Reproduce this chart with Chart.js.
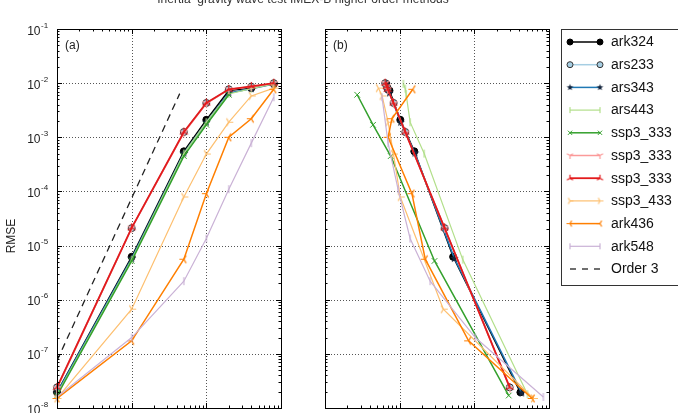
<!DOCTYPE html>
<html>
<head>
<meta charset="utf-8">
<script src="https://cdn.jsdelivr.net/npm/chart.js@4.4.1/dist/chart.umd.min.js"></script>
<style>
html, body { margin: 0; padding: 0; background: #fff; overflow: hidden; }
#wrap { position: relative; width: 678px; height: 413px; }
canvas { position: absolute; left: 0; top: 0; }
</style>
</head>
<body>
<div id="wrap">
  <canvas id="chartA" width="678" height="413"></canvas>
  <canvas id="chartB" width="678" height="413"></canvas>
</div>
<script>
// legend labels, in plotting order
const seriesNames = ['ark324', 'ars233', 'ars343', 'ars443', 'ssp3_333', 'ssp3_333', 'ssp3_333', 'ssp3_433', 'ark436', 'ark548'];

// time steps (panel a x values)
const dtSteps = [1, 10, 50, 100, 200, 400, 800];

// RMSE per method, one value per time step
const rmseArk324 = [1.95e-8, 6.2e-6, 5.5e-4, 2.1e-3, 7.3e-3, 8.1e-3, 9.7e-3];
const rmseArs233 = [2.4e-8, 2.1e-5, 1.25e-3, 4.3e-3, 7.7e-3, 8.6e-3, 1.0e-2];
const rmseArs343 = [1.9e-8, 5.8e-6, 5.1e-4, 1.9e-3, 6.6e-3, 7.9e-3, 9.6e-3];
const rmseArs443 = [1.8e-8, 5.5e-6, 5.0e-4, 1.9e-3, 6.3e-3, 7.9e-3, 9.7e-3];
const rmseSsp333a = [1.7e-8, 5.2e-6, 4.5e-4, 1.7e-3, 6.1e-3];
const rmseSsp333b = [2.3e-8, 2.1e-5, 1.2e-3, 4.2e-3, 7.6e-3, 8.6e-3, 9.9e-3];
const rmseSsp333c = [2.4e-8, 2.13e-5, 1.25e-3, 4.3e-3, 7.7e-3, 8.7e-3, 1.0e-2];
const rmseSsp433 = [1.5e-8, 6.7e-7, 7.9e-5, 4.9e-4, 1.9e-3, 5.8e-3, 8.1e-3];
const rmseArk436 = [1.5e-8, 1.74e-7, 5.6e-6, 9.1e-5, 1.0e-3, 2.2e-3, 7.7e-3];
const rmseArk548 = [1.6e-8, 2.0e-7, 2.2e-6, 1.35e-5, 1.1e-4, 7.8e-4, 5.5e-3];

// cost per method (panel b x values), same order as dtSteps
const costArk324 = [414, 52, 15.7, 10.2, 7.3, 6.9, 6.6];
const costArs233 = [298, 40, 11.9, 8.3, 6.9, 6.7, 6.4];
const costArs343 = [430, 54, 16, 10.3, 7.3, 6.9, 6.6];
const costArs443 = [515, 70, 21.3, 13.8, 12.2, 11.9, 11.2];
const costSsp333a = [289, 29.3, 7.6, 4.4, 2.7];
const costSsp333b = [300, 40, 12, 8.3, 6.9, 6.7, 6.4];
const costSsp333c = [298, 39.9, 11.9, 8.26, 6.92, 6.69, 6.39];
const costSsp433 = [619, 38.4, 10.2, 8.26, 7.0, 5.82, 5.19];
const costArk436 = [595, 83.8, 22, 14.6, 7.0, 7.86, 15.0];
const costArk548 = [840, 103, 25.6, 13.8, 9.5, 7.0, 5.8];

// third order reference slope
const order3X = [1, 44];
const order3Y = [7.5e-8, 6.4e-3];

const yDecades = [-8, -7, -6, -5, -4, -3, -2, -1];
const xDecades = [0, 1, 2, 3];

const rmseAll = [rmseArk324, rmseArs233, rmseArs343, rmseArs443, rmseSsp333a, rmseSsp333b, rmseSsp333c, rmseSsp433, rmseArk436, rmseArk548];
const costAll = [costArk324, costArs233, costArs343, costArs443, costSsp333a, costSsp333b, costSsp333c, costSsp433, costArk436, costArk548];

const FONT = '"Liberation Sans", Arial, Helvetica, sans-serif';

// small canvases used as point markers
function mk(size, draw) {
    const c = document.createElement('canvas');
    c.width = c.height = size;
    const g = c.getContext('2d');
    g.translate(size / 2, size / 2);
    draw(g);
    return c;
}
function tri(color, stemDeg, r) {
    return mk(2 * r + 2, g => {
        g.strokeStyle = color;
        g.lineWidth = 1.2;
        g.beginPath();
        [0, 120, 240].forEach(d => {
            const a = (stemDeg + d) * Math.PI / 180;
            g.moveTo(0, 0);
            g.lineTo(r * Math.cos(a), r * Math.sin(a));
        });
        g.stroke();
    });
}
function vbar(color, r) {
    return mk(2 * r + 2, g => {
        g.strokeStyle = color;
        g.lineWidth = 1.2;
        g.beginPath();
        g.moveTo(0, -r);
        g.lineTo(0, r);
        g.stroke();
    });
}
function star(color, r) {
    return mk(2 * r + 2, g => {
        g.fillStyle = color;
        g.beginPath();
        for (let i = 0; i < 10; i++) {
            const a = -Math.PI / 2 + i * Math.PI / 5;
            const rr = i % 2 ? r * 0.42 : r;
            g.lineTo(rr * Math.cos(a), rr * Math.sin(a));
        }
        g.closePath();
        g.fill();
    });
}

const styles = [
    { color: '#000000', point: 'circle', radius: 3.5, fill: '#000000', edge: '#000000', width: 1.5 },
    { color: '#a6cee3', point: 'circle', radius: 3.5, fill: '#a6cee3', edge: '#333333', width: 1.5 },
    { color: '#1f78b4', point: star('#14253d', 4.5), radius: 4, width: 1.5 },
    { color: '#b2df8a', point: vbar('#b2df8a', 4), radius: 4, width: 1.2 },
    { color: '#33a02c', point: 'crossRot', radius: 4, fill: '#33a02c', edge: '#33a02c', width: 1.5 },
    { color: '#fb9a99', point: tri('#fb9a99', 90, 4.5), radius: 4, width: 1.5 },
    { color: '#e31a1c', point: tri('#e31a1c', 270, 4.5), radius: 4, width: 1.8 },
    { color: '#fdbf6f', point: tri('#fdbf6f', 0, 4.5), radius: 4, width: 1.2 },
    { color: '#ff7f00', point: tri('#ff7f00', 180, 4.5), radius: 4, width: 1.5 },
    { color: '#cab2d6', point: vbar('#cab2d6', 4), radius: 4, width: 1.2 }
];

// smaller copies for the legend samples
const legendPoints = [
    'circle', 'circle', star('#14253d', 3.5), vbar('#b2df8a', 3), 'crossRot',
    tri('#fb9a99', 90, 3.5), tri('#e31a1c', 270, 3.5), tri('#fdbf6f', 0, 3.5), tri('#ff7f00', 180, 3.5), vbar('#cab2d6', 3)
];

function buildSets(xsFor) {
    const sets = seriesNames.map((name, i) => {
        const s = styles[i];
        const xs = xsFor(i);
        return {
            label: name,
            data: rmseAll[i].map((y, j) => ({ x: xs[j], y: y })),
            showLine: true,
            borderColor: s.color,
            backgroundColor: s.color,
            borderWidth: s.width,
            pointStyle: s.point,
            pointRadius: s.radius,
            pointBackgroundColor: s.fill || s.color,
            pointBorderColor: s.edge || s.color,
            pointBorderWidth: 1,
            order: 20 - i,
            clip: false
        };
    });
    return sets;
}

const setsA = buildSets(() => dtSteps);
setsA.push({
    label: 'Order 3',
    data: order3X.map((x, j) => ({ x: x, y: order3Y[j] })),
    showLine: true,
    borderColor: '#222',
    borderWidth: 1.3,
    borderDash: [7, 5],
    pointRadius: 0,
    order: 0
});
const setsB = buildSets(i => costAll[i]);

function forLog(fromExp, toExp, fn) {
    for (let k = fromExp; k < toExp; k++) {
        for (let m = 2; m <= 9; m++) fn(m * Math.pow(10, k));
    }
}

// grid, frame and inward ticks in the matplotlib way
const framePlugin = {
    id: 'frame',
    beforeDatasetsDraw(chart) {
        const { ctx, chartArea: a, scales: { x, y } } = chart;
        ctx.save();
        ctx.strokeStyle = '#555';
        ctx.lineWidth = 1;
        ctx.setLineDash([1, 2]);
        ctx.beginPath();
        [1, 2].forEach(k => {
            const px = Math.round(x.getPixelForValue(Math.pow(10, k))) + 0.5;
            ctx.moveTo(px, a.top); ctx.lineTo(px, a.bottom);
        });
        yDecades.slice(1, -1).forEach(k => {
            const py = Math.round(y.getPixelForValue(Math.pow(10, k))) + 0.5;
            ctx.moveTo(a.left, py); ctx.lineTo(a.right, py);
        });
        ctx.stroke();
        ctx.restore();
    },
    afterDatasetsDraw(chart) {
        const { ctx, chartArea: a, scales: { x, y } } = chart;
        ctx.save();
        ctx.strokeStyle = '#000';
        ctx.lineWidth = 1;
        ctx.beginPath();
        const tickX = (v, len) => {
            const px = Math.round(x.getPixelForValue(v)) + 0.5;
            ctx.moveTo(px, a.bottom); ctx.lineTo(px, a.bottom - len);
            ctx.moveTo(px, a.top); ctx.lineTo(px, a.top + len);
        };
        const tickY = (v, len) => {
            const py = Math.round(y.getPixelForValue(v)) + 0.5;
            ctx.moveTo(a.left, py); ctx.lineTo(a.left + len, py);
            ctx.moveTo(a.right, py); ctx.lineTo(a.right - len, py);
        };
        xDecades.forEach(k => tickX(Math.pow(10, k), 5));
        forLog(0, 3, v => tickX(v, 2.5));
        yDecades.forEach(k => tickY(Math.pow(10, k), 5));
        forLog(-8, -1, v => tickY(v, 2.5));
        ctx.stroke();
        ctx.strokeRect(Math.round(a.left) + 0.5, Math.round(a.top) + 0.5, Math.round(a.right - a.left), Math.round(a.bottom - a.top));
        ctx.restore();
    }
};

const labelsA = {
    id: 'labelsA',
    afterDraw(chart) {
        const { ctx, scales: { y } } = chart;
        ctx.save();
        ctx.fillStyle = '#222';
        yDecades.forEach(k => {
            const py = y.getPixelForValue(Math.pow(10, k));
            ctx.font = '12px ' + FONT;
            ctx.textAlign = 'right';
            ctx.textBaseline = 'alphabetic';
            ctx.fillText('10', 40.5, py + 5.5);
            ctx.font = '8px ' + FONT;
            ctx.textAlign = 'left';
            ctx.fillText('-' + Math.abs(k), 41, py - 1.5);
        });
        ctx.font = '12px ' + FONT;
        ctx.textAlign = 'left';
        ctx.fillText('(a)', 65, 49);
        ctx.textAlign = 'center';
        ctx.fillStyle = '#333';
        ctx.fillText('Inertia\u2013gravity wave test IMEX-B higher order methods', 303, 3);
        ctx.translate(12, 236);
        ctx.rotate(-Math.PI / 2);
        ctx.fillStyle = '#222';
        ctx.textBaseline = 'middle';
        ctx.fillText('RMSE', 0, 0);
        ctx.restore();
    }
};

const labelsB = {
    id: 'labelsB',
    afterDraw(chart) {
        const { ctx } = chart;
        ctx.save();
        ctx.fillStyle = '#222';
        ctx.font = '12px ' + FONT;
        ctx.fillText('(b)', 333, 49);

        // legend box
        ctx.strokeStyle = '#333';
        ctx.lineWidth = 1;
        ctx.strokeRect(561.5, 29.5, 140, 256);
        setsA.forEach((ds, i) => {
            const ly = 42 + i * 22.7;
            ctx.save();
            ctx.strokeStyle = ds.borderColor;
            ctx.lineWidth = ds.borderWidth;
            if (ds.borderDash) ctx.setLineDash([6, 6]);
            ctx.beginPath();
            ctx.moveTo(570, ly); ctx.lineTo(600, ly);
            ctx.stroke();
            ctx.restore();
            if (ds.pointRadius > 0) {
                [570, 600].forEach(lx => {
                    ctx.save();
                    ctx.fillStyle = ds.pointBackgroundColor;
                    ctx.strokeStyle = ds.pointBorderColor;
                    ctx.lineWidth = 1;
                    Chart.helpers.drawPoint(ctx, { pointStyle: legendPoints[i], radius: 3, borderWidth: 1, rotation: 0 }, lx, ly);
                    ctx.restore();
                });
            }
            ctx.fillStyle = '#111';
            ctx.font = '14px ' + FONT;
            ctx.textAlign = 'left';
            ctx.textBaseline = 'middle';
            ctx.fillText(ds.label, 611, ly + 0.5);
        });
        ctx.restore();
    }
};

function panel(id, pad, datasets, extra) {
    return new Chart(document.getElementById(id), {
        type: 'scatter',
        data: { datasets: datasets },
        options: {
            responsive: false,
            animation: false,
            events: [],
            layout: { padding: pad },
            plugins: { legend: { display: false }, tooltip: { enabled: false } },
            scales: {
                x: { type: 'logarithmic', min: 1, max: 1000, display: false },
                y: { type: 'logarithmic', min: 1e-8, max: 1e-1, display: false }
            }
        },
        plugins: [framePlugin, extra]
    });
}

panel('chartA', { left: 57, right: 397, top: 29, bottom: 4 }, setsA, labelsA);
panel('chartB', { left: 325, right: 129, top: 29, bottom: 4 }, setsB, labelsB);
</script>
</body>
</html>
